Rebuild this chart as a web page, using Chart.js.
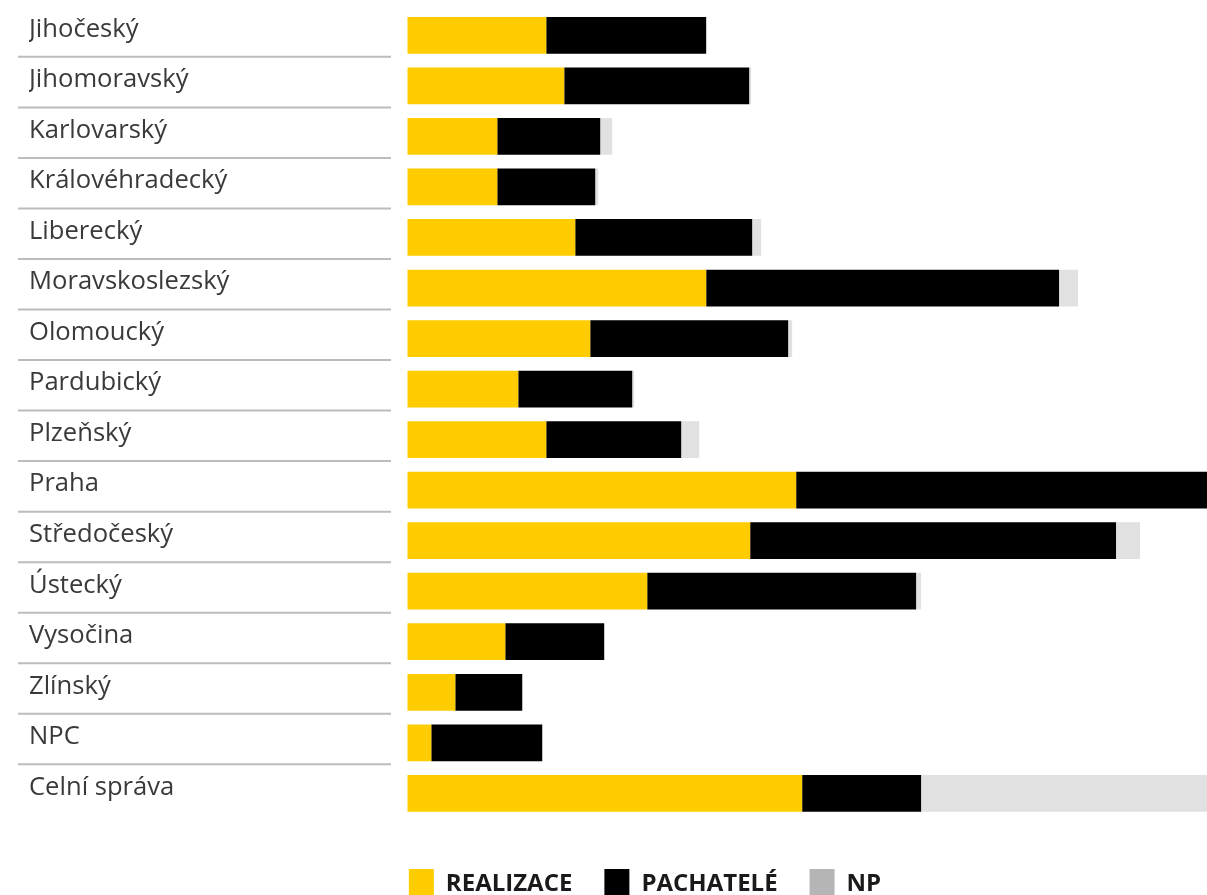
<!DOCTYPE html>
<html lang="cs">
<head>
<meta charset="utf-8">
<title>Realizace a pachatelé podle krajů</title>
<script src="https://cdn.jsdelivr.net/npm/chart.js@4/dist/chart.umd.min.js"></script>
<style>
  html, body { margin: 0; padding: 0; background: #fff; overflow: hidden; }
  .wrap { position: relative; width: 1207px; height: 909px; }
</style>
</head>
<body>
<div class="wrap"><canvas id="chart"></canvas></div>
<script>
const regions = [
  'Jihočeský', 'Jihomoravský', 'Karlovarský', 'Královéhradecký', 'Liberecký',
  'Moravskoslezský', 'Olomoucký', 'Pardubický', 'Plzeňský', 'Praha',
  'Středočeský', 'Ústecký', 'Vysočina', 'Zlínský', 'NPC', 'Celní správa',
];

// values (relative units, axis ends at 800)
const realizace = [139, 157, 90, 90, 168, 299, 183, 111, 139, 389, 343, 240, 98, 48, 24, 395];
const pachatele = [160, 185, 103, 98, 177, 353, 198, 114, 135, 430, 366, 269, 99, 67, 111, 119];
const np = [0, 2, 12, 3, 9, 19, 4, 2, 18, 0, 24, 5, 0, 0, 0, 300];

const axisMax = 800;

const colors = {
  realizace: '#ffcc00',
  pachatele: '#000000',
  np: '#e1e1e1',
  npLegend: '#b5b5b5',
};

// grey rules under the region names
const separatorLines = {
  id: 'separatorLines',
  afterDraw(chart) {
    const yScale = chart.scales.y;
    const ctx = chart.ctx;
    ctx.save();
    ctx.strokeStyle = '#bcbcbc';
    ctx.lineWidth = 2;
    for (let i = 0; i < regions.length - 1; i += 1) {
      const y = yScale.getPixelForValue(i) + 21.5;
      ctx.beginPath();
      ctx.moveTo(18, y);
      ctx.lineTo(391, y);
      ctx.stroke();
    }
    ctx.restore();
  },
};

// push the legend row a bit to the right, like in the original
const legendShift = {
  id: 'legendShift',
  afterLayout(chart) {
    if (chart.legend) {
      chart.legend.left += 27;
      chart.legend.right += 27;
    }
  },
};

const ctx = document.getElementById('chart').getContext('2d');
const chart = new Chart(ctx, {
  type: 'bar',
  data: {
    labels: regions,
    datasets: [
      { label: 'REALIZACE', data: realizace, backgroundColor: colors.realizace },
      { label: 'PACHATELÉ', data: pachatele, backgroundColor: colors.pachatele },
      { label: 'NP', data: np, backgroundColor: colors.np },
    ],
  },
  options: {
    indexAxis: 'y',
    responsive: true,
    maintainAspectRatio: false,
    animation: false,
    layout: { padding: { left: 29, top: 10.1, right: 0, bottom: 0 } },
    datasets: {
      bar: { barPercentage: 0.727, categoryPercentage: 1, borderWidth: 0 },
    },
    scales: {
      x: {
        stacked: true,
        min: 0,
        max: axisMax,
        grid: { display: false },
        border: { display: false },
        ticks: { display: false },
        afterFit: scale => { scale.height = 18.4; },
      },
      y: {
        stacked: true,
        grid: { display: false },
        border: { display: false },
        ticks: {
          crossAlign: 'far',
          padding: 0,
          labelOffset: -6,
          color: '#3a3a3a',
          font: { family: '"Open Sans", sans-serif', size: 25.6, lineHeight: 0.7 },
        },
        afterFit: scale => { scale.width = 378.3; },
      },
    },
    plugins: {
      legend: {
        position: 'bottom',
        labels: {
          boxWidth: 25,
          boxHeight: 30,
          padding: 32,
          color: '#1a1a1a',
          font: { family: '"Open Sans", sans-serif', size: 24, weight: 'bold' },
          generateLabels: c => Chart.defaults.plugins.legend.labels.generateLabels(c).map(item => ({
            ...item,
            fillStyle: item.text === 'NP' ? colors.npLegend : item.fillStyle,
            lineWidth: 0,
          })),
        },
      },
      tooltip: { enabled: false },
    },
  },
  plugins: [separatorLines, legendShift],
});
</script>
</body>
</html>
